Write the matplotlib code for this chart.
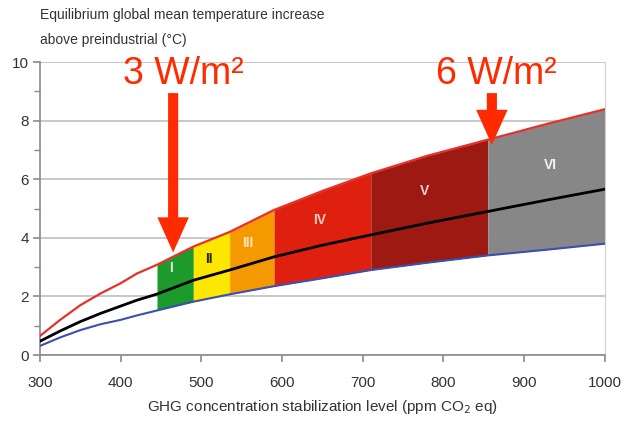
import matplotlib
matplotlib.use("Agg")
import matplotlib.pyplot as plt
import numpy as np

plt.rcParams['font.family'] = ['Liberation Sans', 'DejaVu Sans']

ppm = np.array([300, 325, 350, 375, 400, 420, 445, 490, 535, 590, 650, 710, 780, 855, 930, 1000])
upper = np.array([0.65, 1.2, 1.7, 2.1, 2.45, 2.78, 3.08, 3.7, 4.2, 4.95, 5.6, 6.2, 6.8, 7.35, 7.9, 8.39])
middle = np.array([0.47, 0.82, 1.14, 1.42, 1.67, 1.87, 2.08, 2.55, 2.9, 3.35, 3.75, 4.1, 4.5, 4.9, 5.3, 5.66])
lower = np.array([0.31, 0.6, 0.85, 1.05, 1.2, 1.35, 1.52, 1.82, 2.07, 2.35, 2.62, 2.9, 3.15, 3.4, 3.6, 3.8])

cat_names = ['I', 'II', 'III', 'IV', 'V', 'VI']
cat_bounds = [(445, 490), (490, 535), (535, 590), (590, 710), (710, 855), (855, 1000)]
cat_colors = ['#1c9a2c', '#fde700', '#f49a00', '#e0200f', '#9c1a12', '#878787']
label_pos = [(462, 2.97), (509, 3.28), (558, 3.82), (647, 4.6), (777, 5.6), (932, 6.5)]
label_colors = ['#d8e8d8', '#2a2a00', '#fde2c0', '#f7c8c0', '#e8d0d0', '#f2f2f2']

forcing_labels = ['3 W/m²', '6 W/m²']
forcing_ppm = [465, 860]
forcing_tip = [3.5, 7.17]
forcing_top = [8.94, 8.94]
forcing_text_pos = [(478, 9.6), (866, 9.6)]

fig = plt.figure(figsize=(6.21, 4.25), dpi=100)
ax = fig.add_axes([0.0644, 0.1647, 0.9096, 0.6893])

for (a, b), c in zip(cat_bounds, cat_colors):
    m = (ppm >= a) & (ppm <= b)
    ax.fill_between(ppm[m], lower[m], upper[m], color=c, linewidth=0, zorder=2)

ax.plot(ppm, upper, color='#e8302a', lw=1.6, zorder=3)
ax.plot(ppm, middle, color='black', lw=2.0, zorder=3)
ax.plot(ppm, lower, color='#3a4fb0', lw=1.5, zorder=3)

for name, (x, y), c in zip(cat_names, label_pos, label_colors):
    ax.text(x, y, name, color=c, fontsize=10, fontweight='bold', ha='center', va='center', zorder=4)

arrow_color = '#ff2a00'
for lab, xp, tip, top, (tx, ty) in zip(forcing_labels, forcing_ppm, forcing_tip, forcing_top, forcing_text_pos):
    ax.arrow(xp, top, 0, tip - top, width=12.5, head_width=39, head_length=1.2,
             length_includes_head=True, color=arrow_color, lw=0, zorder=5)
    ax.text(tx, ty, lab, color=arrow_color, fontsize=27, ha='center', va='center', zorder=6)

ax.set_xlim(300, 1000)
ax.set_ylim(0, 10)
ax.set_xticks(np.arange(300, 1001, 100))
ax.set_yticks(np.arange(0, 11, 2))
ax.set_yticks(np.arange(1, 10, 2), minor=True)
ax.grid(axis='y', which='major', color='#c8c8c8', lw=1.4, zorder=0)
ax.set_axisbelow(True)
for s in ['left', 'bottom']:
    ax.spines[s].set_color('#8a8a8a')
    ax.spines[s].set_linewidth(1.2)
ax.spines['right'].set_color('#d0d0d0')
ax.spines['top'].set_visible(False)
ax.tick_params(axis='both', which='both', colors='#8a8a8a', labelcolor='#333333', labelsize=11)
ax.tick_params(axis='x', length=5, width=1.2, pad=10)
ax.tick_params(axis='y', which='major', length=5, width=1.2, pad=3)
ax.tick_params(axis='y', which='minor', length=4, width=1.0)

ax.set_xlabel('GHG concentration stabilization level (ppm CO$_2$ eq)', fontsize=11, color='#333333', labelpad=6)
fig.text(0.0644, 0.965, 'Equilibrium global mean temperature increase', fontsize=10, color='#333333', va='center')
fig.text(0.0644, 0.905, 'above preindustrial (°C)', fontsize=10, color='#333333', va='center')

fig.savefig('out.png', dpi=100, facecolor='white')
